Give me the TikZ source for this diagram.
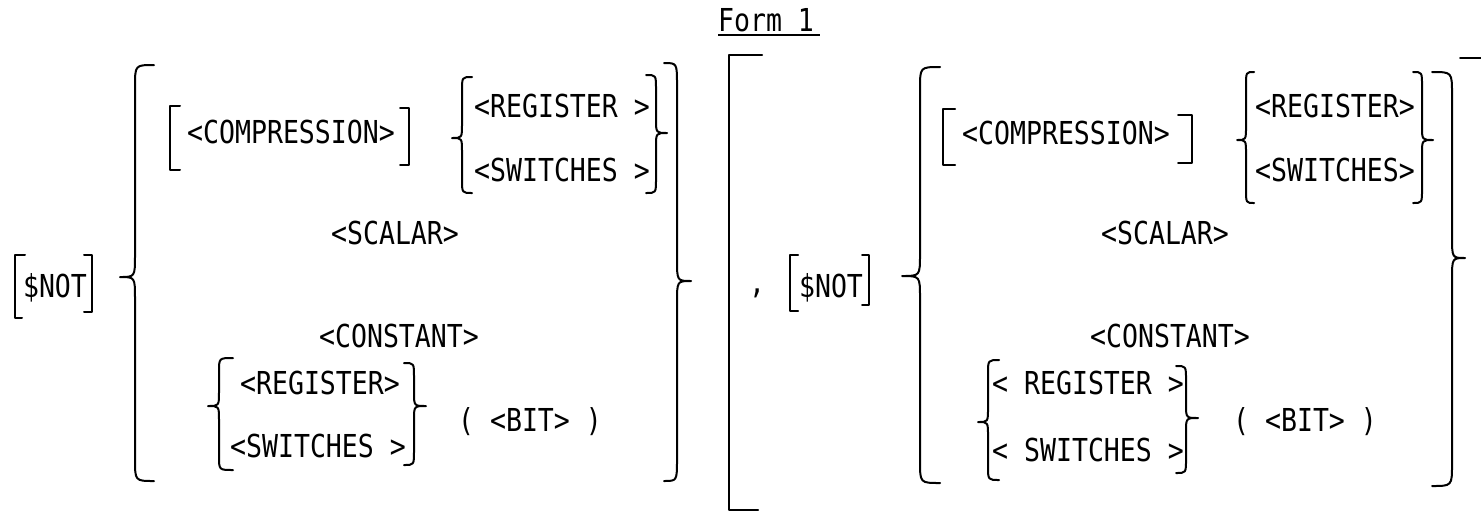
\documentclass[tikz,border=0pt]{standalone}
\usepackage{fontspec}
\newfontfamily\typew[FakeStretch=0.84]{DejaVu Sans Mono}
\tikzset{
  txt/.style={anchor=base, inner sep=0pt, font=\typew\fontsize{15.8pt}{18pt}\selectfont},
  br/.style={line width=1pt, line cap=round, line join=round},
}
% brace: #1 ends x, #2 spine x, #3 tip x, #4 top y, #5 tip y, #6 bottom y, #7 radius
\newcommand{\MyBrace}[7]{\draw[br] (#1,#4) .. controls (#2,#4) .. (#2,#4+#7) -- (#2,#5-#7) .. controls (#2,#5) .. (#3,#5) .. controls (#2,#5) .. (#2,#5+#7) -- (#2,#6-#7) .. controls (#2,#6) .. (#1,#6);}
% square bracket: #1 top tick end x, #2 spine x, #3 top y, #4 bottom y, #5 bottom tick end x
\newcommand{\MySq}[5]{\draw[br] (#1,#3) -- (#2,#3) -- (#2,#4) -- (#5,#4);}
\begin{document}
\begin{tikzpicture}[x=0.5pt,y=-0.5pt]
\useasboundingbox (0,0) rectangle (1481,526);
% title
\node[txt] (form) at (766,31) {Form 1};
\draw[line width=0.7pt] (718,35) -- (820,35);
% ---------- left group ----------
\MySq{25}{15}{255}{318}{22}
\node[txt] (not1) at (55,297) {\$NOT};
\MySq{84}{92}{255}{312}{84}
\MyBrace{154}{135}{120}{65}{277}{481}{22}
\MySq{180}{170}{106}{170}{180}
\node[txt] (comp1) at (291,143) {<COMPRESSION>};
\MySq{400}{409}{108}{165}{400}
\MyBrace{472}{462}{452}{77}{138}{193}{14}
\node[txt] (reg1) at (562,117) {<REGISTER >};
\node[txt] (sw1) at (562,181) {<SWITCHES >};
\MyBrace{646}{656}{667}{75}{133}{193}{14}
\node[txt] (scal1) at (395,244) {<SCALAR>};
\node[txt] (const1) at (399,347) {<CONSTANT>};
\MyBrace{233}{219}{208}{358}{406}{470}{14}
\node[txt] (reg2) at (320,394) {<REGISTER>};
\node[txt] (sw2) at (318,457) {<SWITCHES >};
\MyBrace{404}{414}{426}{363}{406}{465}{14}
\node[txt] (bit1) at (530,431) {( <BIT> )};
\MyBrace{664}{677}{691}{63}{281}{481}{22}
% ---------- outer bracket ----------
\MySq{762}{729}{55}{510}{758}
\node[txt] (comma) at (757,293) {,};
% ---------- right group ----------
\MySq{798}{790}{255}{311}{798}
\node[txt] (not2) at (831,297) {\$NOT};
\MySq{862}{869}{255}{305}{862}
\MyBrace{940}{920}{902}{67}{276}{483}{22}
\MySq{955}{943}{109}{165}{955}
\node[txt] (comp2) at (1066,144) {<COMPRESSION>};
\MySq{1178}{1192}{115}{163}{1178}
\MyBrace{1254}{1246}{1237}{72}{140}{203}{14}
\node[txt] (reg3) at (1335,117) {<REGISTER>};
\node[txt] (sw3) at (1335,181) {<SWITCHES>};
\MyBrace{1413}{1422}{1433}{72}{140}{203}{14}
\node[txt] (scal2) at (1165,244) {<SCALAR>};
\node[txt] (const2) at (1170,347) {<CONSTANT>};
\MyBrace{999}{988}{978}{360}{422}{480}{14}
\node[txt] (reg4) at (1088,394) {< REGISTER >};
\node[txt] (sw4) at (1088,461) {< SWITCHES >};
\MyBrace{1176}{1186}{1198}{366}{418}{473}{14}
\node[txt] (bit2) at (1305,431) {( <BIT> )};
\MyBrace{1432}{1452}{1465}{72}{258}{486}{22}
\draw[br] (1460,58) -- (1481,58);
\end{tikzpicture}
\end{document}
